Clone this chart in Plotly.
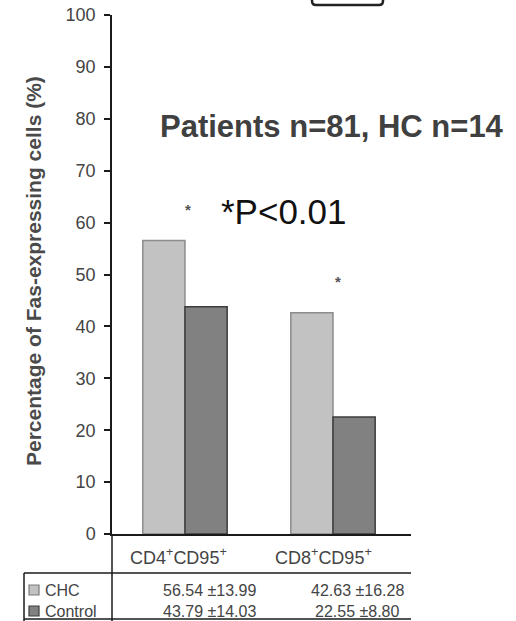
import plotly.graph_objects as go

categories = ["CD4<sup>+</sup>CD95<sup>+</sup>", "CD8<sup>+</sup>CD95<sup>+</sup>"]
cat_keys = ["CD4CD95", "CD8CD95"]
chc_mean = [56.54, 42.63]
chc_sd = [13.99, 16.28]
ctrl_mean = [43.79, 22.55]
ctrl_sd = [14.03, 8.80]
series_names = ["CHC", "Control"]
y_ticks = [0, 10, 20, 30, 40, 50, 60, 70, 80, 90, 100]

W, H = 516, 621
L, R, T, B = 112, 411, 15, 534  # plot area in pixels


def px(x):
    return (x - L) / (R - L)


def py(y):
    return (B - y) / (B - T)


FONT = "Liberation Sans, Arial, sans-serif"
fig = go.Figure()
fig.add_trace(go.Bar(x=cat_keys, y=chc_mean, name=series_names[0],
                     marker=dict(color="#c2c2c2", line=dict(color="#8c8c8c", width=1.5))))
fig.add_trace(go.Bar(x=cat_keys, y=ctrl_mean, name=series_names[1],
                     marker=dict(color="#818181", line=dict(color="#3c3c3c", width=1.5))))

fig.update_layout(
    width=W, height=H, margin=dict(l=L, r=W - R, t=T, b=H - B, autoexpand=False),
    plot_bgcolor="white", paper_bgcolor="white",
    barmode="group", bargap=0.43, bargroupgap=0, showlegend=False,
    font=dict(family=FONT),
)
fig.update_xaxes(range=[-0.493, 1.527], showticklabels=False, ticks="", automargin=False,
                 showline=True, linecolor="#1a1a1a", linewidth=1.5, showgrid=False)
fig.update_yaxes(range=[0, 100], tickvals=y_ticks, ticks="outside", ticklen=6, automargin=False,
                 tickcolor="#1a1a1a", tickwidth=1.5, showline=True, linecolor="#1a1a1a",
                 linewidth=1.5, showgrid=False, zeroline=False, ticklabelstandoff=5,
                 tickfont=dict(size=18, color="#444444", family=FONT))

ann = []
# y axis title
ann.append(dict(x=px(33), y=py(271), xref="paper", yref="paper", showarrow=False,
                text="<b>Percentage of Fas-expressing cells (%)</b>", textangle=-90,
                font=dict(size=21, color="#4a4a4a", family=FONT), xanchor="center", yanchor="middle"))
# category labels
for i, c in enumerate(categories):
    ann.append(dict(x=cat_keys[i], y=py(556), xref="x", yref="paper", showarrow=False,
                    text=c, xshift=-6 - 3 * i, font=dict(size=18, color="#444444", family=FONT),
                    xanchor="center", yanchor="middle"))
# table values
for i in range(len(cat_keys)):
    for mean, sd, yy in ((chc_mean, chc_sd, 590), (ctrl_mean, ctrl_sd, 611)):
        ann.append(dict(x=cat_keys[i], y=py(yy), xref="x", yref="paper", showarrow=False,
                        text=f"{mean[i]:.2f} \u00b1{sd[i]:.2f}", xshift=25,
                        font=dict(size=16, color="#444444", family=FONT),
                        xanchor="center", yanchor="middle"))
# table legend names
for name, yy in zip(series_names, (590, 611)):
    ann.append(dict(x=px(43), y=py(yy), xref="paper", yref="paper", showarrow=False,
                    text=name, font=dict(size=16, color="#444444", family=FONT),
                    xanchor="left", yanchor="middle"))
# significance asterisks
for i in range(len(cat_keys)):
    ann.append(dict(x=cat_keys[i], y=chc_mean[i] + 6.0, xref="x", yref="y", showarrow=False,
                    text="<b>*</b>", xshift=3 + 2 * i, font=dict(size=15, color="#555555", family=FONT),
                    xanchor="center", yanchor="middle"))
# big texts
ann.append(dict(x=px(332), y=py(127), xref="paper", yref="paper", showarrow=False,
                text="<b>Patients n=81, HC n=14</b>", font=dict(size=31, color="#404040", family=FONT),
                xanchor="center", yanchor="middle"))
ann.append(dict(x=px(284), y=py(211), xref="paper", yref="paper", showarrow=False,
                text="*P&lt;0.01", font=dict(size=35, color="#111111", family=FONT),
                xanchor="center", yanchor="middle"))
fig.update_layout(annotations=ann)

shapes = []
line = dict(color="#1a1a1a", width=1.5)
# y axis extension through table
shapes.append(dict(type="line", xref="paper", yref="paper", x0=0, x1=0, y0=0, y1=py(621), line=line))
# table lines
shapes.append(dict(type="line", xref="paper", yref="paper", x0=px(24), x1=1, y0=py(573), y1=py(573), line=line))
shapes.append(dict(type="line", xref="paper", yref="paper", x0=px(24), x1=1, y0=py(619), y1=py(619), line=line))
shapes.append(dict(type="line", xref="paper", yref="paper", x0=px(24), x1=px(24), y0=py(573), y1=py(621), line=line))
# legend swatches
for col, lc, yy in (("#c2c2c2", "#7a7a7a", 590), ("#818181", "#3c3c3c", 611)):
    shapes.append(dict(type="rect", xref="paper", yref="paper", x0=px(29), x1=px(39),
                       y0=py(yy + 5), y1=py(yy - 5), fillcolor=col, line=dict(color=lc, width=1.2)))
# cut-off legend box at top
x0, x1, yb = px(312), px(383), py(5)
r = 4 / (R - L)
rv = 4 / (B - T)
path = (f"M {x0},1.2 L {x0},{yb + rv} Q {x0},{yb} {x0 + r},{yb} L {x1 - r},{yb} "
        f"Q {x1},{yb} {x1},{yb + rv} L {x1},1.2")
shapes.append(dict(type="path", xref="paper", yref="paper", path=path,
                   line=dict(color="#222222", width=2.5)))
fig.update_layout(shapes=shapes)

fig.write_html("out.html")
